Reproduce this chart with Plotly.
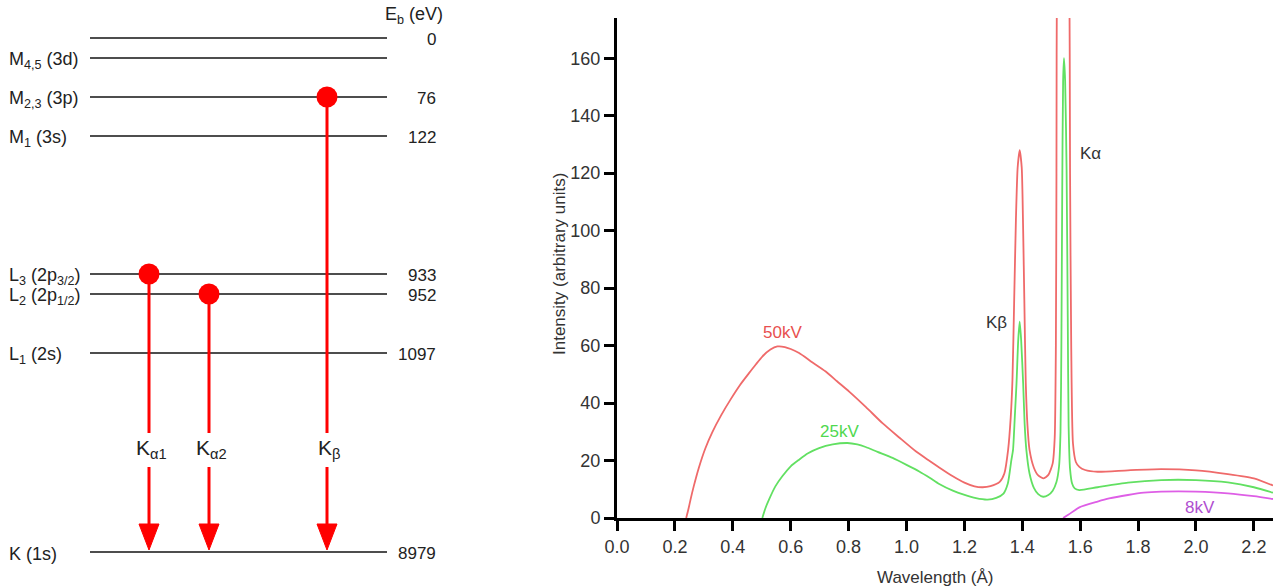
import plotly.graph_objects as go

# ---------------- Spectrum data (wavelength in Å, intensity in arbitrary units) ----------------
red_x = [0.239, 0.247, 0.254, 0.265, 0.283, 0.305, 0.329, 0.36, 0.392, 0.425, 0.456, 0.48, 0.502,
         0.53, 0.554, 0.58, 0.60, 0.629, 0.67, 0.721, 0.76, 0.802, 0.86, 0.917, 0.975, 1.032, 1.075,
         1.113, 1.16, 1.20, 1.235, 1.263, 1.29, 1.322, 1.338, 1.351, 1.36, 1.366, 1.372, 1.378, 1.384,
         1.391, 1.398, 1.403, 1.407, 1.412, 1.418, 1.425, 1.44, 1.455, 1.474, 1.49, 1.505, 1.512,
         1.516, 1.518, 1.520, 1.54, 1.562, 1.565, 1.569, 1.575, 1.585, 1.597, 1.617, 1.66, 1.765,
         1.88, 2.0, 2.11, 2.2, 2.266]
red_y = [0, 3.2, 6.4, 11, 17.6, 24.2, 29.8, 35.8, 41.2, 46.3, 50.4, 53.5, 56.2,
         58.6, 59.7, 59.5, 58.8, 57.4, 54.5, 51, 47.6, 44, 38.6, 33, 28, 23.2, 20.2,
         17.6, 14.5, 12.3, 11.0, 10.7, 11.1, 12.6, 15.5, 23.7, 35, 48, 76, 104, 122,
         128, 122, 100, 76, 47, 32, 23.7, 17.5, 14.8, 13.8, 15, 19, 28,
         60, 120, 200, 330, 200, 120, 60, 26, 19.5, 17.8, 16.7, 16.1, 16.6,
         17.0, 16.6, 15.3, 13.8, 11.3]

green_x = [0.502, 0.513, 0.525, 0.547, 0.571, 0.60, 0.629, 0.66, 0.698, 0.745, 0.796, 0.83, 0.859,
           0.90, 0.952, 1.0, 1.044, 1.08, 1.113, 1.16, 1.198, 1.24, 1.28, 1.31, 1.335, 1.35, 1.362,
           1.368, 1.374, 1.380, 1.386, 1.391, 1.396, 1.403, 1.408, 1.414, 1.425, 1.44, 1.455, 1.472,
           1.49, 1.505, 1.518, 1.527, 1.532, 1.535, 1.538, 1.541, 1.544, 1.548, 1.553, 1.557, 1.560,
           1.565, 1.572, 1.581, 1.597, 1.66, 1.765, 1.88, 2.0, 2.11, 2.2, 2.266]
green_y = [0, 3.5, 6.4, 11, 14.5, 18, 20.3, 22.5, 24.3, 25.6, 26.1, 25.6, 24.7,
           23.0, 20.9, 18.5, 16.2, 14, 11.8, 9.5, 8.1, 6.9, 6.4, 7.0, 8.5, 12, 20,
           23.7, 35, 46.8, 62, 68.3, 62, 46.8, 33, 23.7, 15.5, 10.5, 8.3, 7.4,
           8.0, 9.5, 12.5, 18, 30, 60, 115, 152, 160, 152, 121, 70, 32,
           17, 12, 10.3, 9.7, 10.7, 12.3, 13.2, 13.2, 12.4, 10.7, 8.8]

mag_x = [1.541, 1.56, 1.597, 1.66, 1.70, 1.765, 1.82, 1.88, 1.94, 2.0, 2.11, 2.2, 2.266]
mag_y = [0, 1.2, 3.7, 5.7, 6.8, 8.0, 8.8, 9.2, 9.3, 9.2, 8.6, 7.6, 6.6]

series_names = ["50kV", "25kV", "8kV"]
x_ticks = [0.0, 0.2, 0.4, 0.6, 0.8, 1.0, 1.2, 1.4, 1.6, 1.8, 2.0, 2.2]
y_ticks = [0, 20, 40, 60, 80, 100, 120, 140, 160]

# ---------------- Energy level diagram data (Cu) ----------------
level_labels = ["", "M<sub>4,5</sub> (3d)", "M<sub>2,3</sub> (3p)", "M<sub>1</sub> (3s)",
                "L<sub>3</sub> (2p<sub>3/2</sub>)", "L<sub>2</sub> (2p<sub>1/2</sub>)",
                "L<sub>1</sub> (2s)", "K (1s)"]
level_energy_ev = ["0", "", "76", "122", "933", "952", "1097", "8979"]
transition_labels = ["K<sub>α1</sub>", "K<sub>α2</sub>", "K<sub>β</sub>"]
transition_from = [4, 5, 2]     # index of upper level
transition_to = 7               # K shell

# schematic layout of the diagram (diagram units)
level_row = [38, 58, 97, 136, 274, 294, 353, 552]
transition_col = [149, 209, 327]
LINE_X0, LINE_X1 = 90, 387
LABEL_ROW = 447
GAP = [17, 17, 17]
ARROW_H, ARROW_HALF_W = 26, 10

FONT = "Liberation Sans, Arial, Helvetica, sans-serif"
W, H = 1281, 588

fig = go.Figure()

# ---- spectrum traces ----
colors = ["#ef6a6a", "#62e062", "#de5ee6"]
for xs, ys, c, n in zip([red_x, green_x, mag_x], [red_y, green_y, mag_y], colors, series_names):
    fig.add_trace(go.Scatter(x=xs, y=ys, mode="lines", name=n,
                             line=dict(color=c, width=1.8, shape="spline", smoothing=0.6),
                             hoverinfo="skip"))

# ---- diagram: level lines ----
lx, ly = [], []
for r in level_row:
    lx += [LINE_X0, LINE_X1, None]
    ly += [r, r, None]
fig.add_trace(go.Scatter(x=lx, y=ly, xaxis="x2", yaxis="y2", mode="lines",
                         line=dict(color="#4d4d4d", width=2), hoverinfo="skip"))

# ---- diagram: transitions ----
for i, (lab, src) in enumerate(zip(transition_labels, transition_from)):
    cx = transition_col[i]
    y_top = level_row[src]
    y_tip = level_row[transition_to] - 2
    y_head = y_tip - ARROW_H
    fig.add_trace(go.Scatter(x=[cx, cx, None, cx, cx],
                             y=[y_top, LABEL_ROW + 3 - GAP[i], None, LABEL_ROW + 3 + GAP[i], y_head + 1],
                             xaxis="x2", yaxis="y2", mode="lines",
                             line=dict(color="#ff0000", width=3), hoverinfo="skip"))
    fig.add_trace(go.Scatter(x=[cx - ARROW_HALF_W, cx + ARROW_HALF_W, cx, cx - ARROW_HALF_W],
                             y=[y_head, y_head, y_tip, y_head],
                             xaxis="x2", yaxis="y2", mode="lines", fill="toself",
                             fillcolor="#ff0000", line=dict(color="#ff0000", width=1),
                             hoverinfo="skip"))
    fig.add_trace(go.Scatter(x=[cx], y=[y_top], xaxis="x2", yaxis="y2", mode="markers",
                             marker=dict(color="#ff0000", size=21), hoverinfo="skip"))

annotations = []
# level labels and energies
for lab, e, r in zip(level_labels, level_energy_ev, level_row):
    if lab:
        annotations.append(dict(x=7, y=r + 2, xref="x2", yref="y2", text=lab, showarrow=False,
                                xanchor="left", yanchor="middle",
                                font=dict(family=FONT, size=18, color="#222222")))
    if e:
        annotations.append(dict(x=438, y=r + 1, xref="x2", yref="y2", text=e, showarrow=False,
                                xanchor="right", yanchor="middle",
                                font=dict(family=FONT, size=17, color="#222222")))
annotations.append(dict(x=445, y=15, xref="x2", yref="y2", text="E<sub>b</sub> (eV)", showarrow=False,
                        xanchor="right", yanchor="middle",
                        font=dict(family=FONT, size=18, color="#222222")))
for i, lab in enumerate(transition_labels):
    annotations.append(dict(x=transition_col[i] + 2, y=LABEL_ROW + 2, xref="x2", yref="y2", text=lab,
                            showarrow=False, xanchor="center", yanchor="middle",
                            font=dict(family=FONT, size=21, color="#222222")))

# spectrum labels
annotations += [
    dict(x=0.573, y=64.5, xref="x", yref="y", text=series_names[0],
         showarrow=False, font=dict(family=FONT, size=17, color="#e8504f")),
    dict(x=0.769, y=30, xref="x", yref="y", text=series_names[1],
         showarrow=False, font=dict(family=FONT, size=17, color="#4fd84f")),
    dict(x=2.013, y=3.8, xref="x", yref="y", text=series_names[2],
         showarrow=False, font=dict(family=FONT, size=17, color="#b04fd0")),
    dict(x=1.31, y=68, xref="x", yref="y", text="Kβ", showarrow=False,
         font=dict(family=FONT, size=17, color="#333333")),
    dict(x=1.635, y=127, xref="x", yref="y", text="Kα", showarrow=False,
         font=dict(family=FONT, size=17, color="#333333")),
    dict(x=935 / W, y=(H - 577) / H, xref="paper", yref="paper",
         text="Wavelength (Å)", showarrow=False, xanchor="center", yanchor="middle",
         font=dict(family=FONT, size=17, color="#333333")),
    dict(x=559 / W, y=(H - 264) / H, xref="paper", yref="paper",
         text="Intensity (arbitrary units)", showarrow=False, textangle=-90,
         xanchor="center", yanchor="middle",
         font=dict(family=FONT, size=17, color="#333333")),
]

axis_common = dict(showline=True, linecolor="black", linewidth=3, ticks="outside",
                   ticklen=10, tickwidth=3, tickcolor="black", showgrid=False, zeroline=False,
                   automargin=False,
                   tickfont=dict(family=FONT, size=18, color="#333333"))

fig.update_layout(
    width=W, height=H, margin=dict(l=0, r=0, t=0, b=0, pad=0, autoexpand=False),
    paper_bgcolor="white", plot_bgcolor="white", showlegend=False,
    xaxis=dict(domain=[617 / W, 1273 / W], range=[0, 2.266], tickvals=x_ticks,
               ticktext=[f"{v:.1f}" for v in x_ticks], anchor="y", **axis_common),
    yaxis=dict(domain=[(H - 518) / H, (H - 18) / H], range=[0, 174], tickvals=y_ticks,
               anchor="x", **axis_common),
    xaxis2=dict(domain=[0, 450 / W], range=[0, 450], visible=False, anchor="y2", automargin=False),
    yaxis2=dict(domain=[0, 1], range=[H, 0], visible=False, anchor="x2", automargin=False),
    annotations=annotations,
)

fig.write_html("out.html", config={"displayModeBar": False},
               post_script="document.body.style.margin='0';")
